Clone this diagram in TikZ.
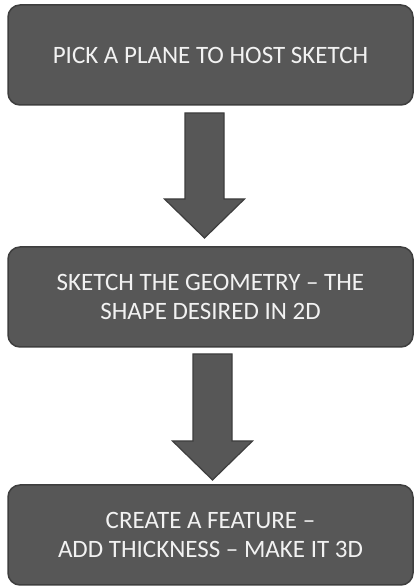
\documentclass[tikz,border=0pt]{standalone}
\usepackage{fontspec}
\setmainfont{Carlito}
\usepackage{tikz}
\usetikzlibrary{positioning, calc}
\usepackage{xcolor}

\definecolor{boxfill}{RGB}{87,87,87}
\definecolor{boxline}{RGB}{62,62,62}
\definecolor{boxtext}{RGB}{242,242,242}

\tikzset{
    stepbox/.style={draw=boxline, fill=boxfill, line width=1.5pt, rounded corners=12pt,
        minimum width=405pt, minimum height=100pt, outer sep=0pt,
        text=boxtext, align=center, font=\fontsize{25}{29}\selectfont},
    fatarrow/.style={draw=boxline, fill=boxfill, line width=1.2pt, line join=miter}
}

\begin{document}
\begin{tikzpicture}[x=1pt, y=1pt, node distance=140pt]
    \useasboundingbox (0,0) rectangle (414,586);
    %\node (name)[option]{content}
    \node (pick) [stepbox] at (210.5,531) {PICK A PLANE TO HOST SKETCH};
    \node (sketch) [stepbox, below=142pt of pick] {SKETCH THE GEOMETRY -- THE\\SHAPE DESIRED IN 2D};
    \node (feature) [stepbox, below=138pt of sketch] {CREATE A FEATURE --\\ADD THICKNESS -- MAKE IT 3D};

    %block arrows between the steps
    \foreach \src/\dst/\dx/\gapa/\gapb in {pick/sketch/-6/8/9, sketch/feature/2/7/5} {
        \coordinate (\src-top) at ([xshift=\dx pt, yshift=-\gapa pt]\src.south);
        \coordinate (\dst-tip) at ([xshift=\dx pt, yshift=\gapb pt]\dst.north);
        \draw[fatarrow] ([xshift=-19.5pt]\src-top) -- ([xshift=19.5pt]\src-top)
            -- ([xshift=19.5pt, yshift=39pt]\dst-tip) -- ([xshift=40pt, yshift=39pt]\dst-tip)
            -- (\dst-tip)
            -- ([xshift=-40pt, yshift=39pt]\dst-tip) -- ([xshift=-19.5pt, yshift=39pt]\dst-tip)
            -- cycle;
    }
\end{tikzpicture}
\end{document}
